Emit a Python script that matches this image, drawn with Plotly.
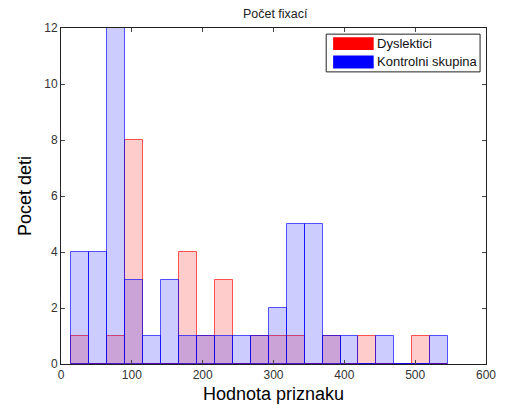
import plotly.graph_objects as go

# Histogram of fixation counts, two groups sharing the same bins
bin_start = 14.2
bin_width = 25.36
dyslektici = [1, 0, 1, 8, 0, 0, 4, 1, 3, 0, 1, 1, 1, 0, 1, 0, 1, 0, 0, 1, 0]
kontrolni = [4, 4, 12, 3, 1, 3, 1, 1, 1, 1, 1, 2, 5, 5, 1, 1, 0, 1, 0, 0, 1]
series_names = ["Dyslektici", "Kontrolni skupina"]
x_ticks = [0, 100, 200, 300, 400, 500, 600]
y_ticks = [0, 2, 4, 6, 8, 10, 12]

centers = [bin_start + bin_width * (i + 0.5) for i in range(len(kontrolni))]

W, H = 508, 412
L, R, T, B = 60.5, 18, 28.3, 45.3
PW, PH = W - L - R, H - T - B

font = "Liberation Sans, Arial, sans-serif"

fig = go.Figure()
fig.add_trace(go.Bar(
    x=centers, y=dyslektici, width=bin_width, name=series_names[0],
    marker=dict(color="rgba(255,0,0,0.2)",
                line=dict(color="rgba(255,0,0,0.65)", width=1)),
    showlegend=False,
))
fig.add_trace(go.Bar(
    x=centers, y=kontrolni, width=bin_width, name=series_names[1],
    marker=dict(color="rgba(0,0,255,0.2)",
                line=dict(color="rgba(0,0,255,0.65)", width=1)),
    showlegend=False,
))


def px(xp, yp):
    return (xp - L) / PW, 1 - (yp - T) / PH


# Legend box drawn with shapes so the swatches are wide solid bars
shapes = []
annotations = []
x0, y0 = px(328.5, 34.5)
x1, y1 = px(484, 72.5)
shapes.append(dict(type="rect", xref="paper", yref="paper", x0=x0, y0=y1, x1=x1, y1=y0,
                   line=dict(color="#222", width=1), fillcolor="white", layer="above"))
for i, (nm, col, yc) in enumerate([(series_names[0], "#ff0000", 44),
                                   (series_names[1], "#0000ff", 62.5)]):
    sx0, sy0 = px(335.5, yc - 6.5)
    sx1, sy1 = px(376.5, yc + 6.5)
    shapes.append(dict(type="rect", xref="paper", yref="paper", x0=sx0, y0=sy1, x1=sx1, y1=sy0,
                       line=dict(width=0), fillcolor=col, layer="above"))
    tx, ty = px(377.5, yc)
    annotations.append(dict(x=tx, y=ty, xref="paper", yref="paper", text=nm, showarrow=False,
                            xanchor="left", yanchor="middle",
                            font=dict(family=font, size=13, color="#111")))

fig.update_layout(
    width=W, height=H,
    margin=dict(l=L, r=R, t=T, b=B, pad=0),
    paper_bgcolor="white", plot_bgcolor="white",
    barmode="overlay", bargap=0,
    shapes=shapes, annotations=annotations,
    title=dict(text="Počet fixací", x=(L + PW / 2) / W, xanchor="center",
               y=1 - 13.5 / H, yanchor="middle",
               font=dict(family=font, size=12.5, color="#222")),
    xaxis=dict(range=[0, 600], tickvals=x_ticks, ticks="inside", ticklen=4,
               showline=True, linecolor="#222", linewidth=1, mirror="ticks",
               showgrid=False, zeroline=False,
               tickfont=dict(family=font, size=12, color="#333"),
               title=dict(text="Hodnota priznaku", standoff=5,
                          font=dict(family=font, size=18, color="#000"))),
    yaxis=dict(range=[0, 12], tickvals=y_ticks, ticks="inside", ticklen=4,
               showline=True, linecolor="#222", linewidth=1, mirror="ticks",
               showgrid=False, zeroline=False,
               tickfont=dict(family=font, size=12, color="#333"),
               title=dict(text="Pocet deti", standoff=7,
                          font=dict(family=font, size=18, color="#000"))),
)

fig.write_html("out.html")
